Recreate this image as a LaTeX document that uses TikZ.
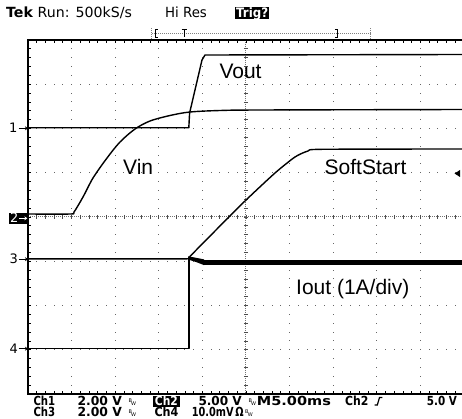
\documentclass[tikz,border=0pt]{standalone}
\usepackage{fontspec}
\usepackage{graphicx}
\setmainfont{Liberation Sans}
\newfontfamily\tekfont{DejaVu Sans}
\newcommand\tkw[2]{\resizebox{#1pt}{\height}{#2}}
\newcommand\bwsym{\raisebox{3.2pt}{B}\kern-0.8pt W}
\tikzset{
 trace/.style={line width=1.4pt, line join=round},
 lbl/.style={inner sep=0pt, anchor=base west, font=\fontsize{21}{21}\selectfont},
 toptxt/.style={inner sep=0pt, anchor=base west, font=\tekfont\fontsize{14}{14}\selectfont},
 bottxt/.style={inner sep=0pt, anchor=base west, font=\tekfont\bfseries\fontsize{12.5}{12.5}\selectfont},
 chnum/.style={inner sep=0pt, anchor=base, font=\tekfont\fontsize{13}{13}\selectfont},
 bwtxt/.style={inner sep=0pt, anchor=base west, font=\tekfont\fontsize{5}{5}\selectfont},
 dotc/.style={fill=black!60},
 gridtick/.style={black!70, line width=0.8pt},
 frametick/.style={black, line width=0.8pt},
 chmark/.style={line width=0.8pt, -{Stealth[length=3pt,width=4pt]}},
 brk/.style={line width=0.9pt},
 brkdot/.style={black!50, line width=0.8pt, dash pattern=on 1pt off 1pt},
}
\usetikzlibrary{arrows.meta}
\begin{document}
\begin{tikzpicture}[x=1pt,y=-1pt]
\useasboundingbox (0,0) rectangle (462,419);
\fill[white] (0,0) rectangle (462,419);
\begin{scope}
\clip (0,0) rectangle (462,419);
% grid dots
\foreach \j in {1,2,3,5,6,7}{\foreach \k in {1,...,49}{\fill[dotc] ({28+\k*8.72-0.5},{40+\j*44.25-0.5}) rectangle ++(1,1);}}
\foreach \i in {1,2,3,4,6,7,8,9}{\foreach \k in {1,...,39}{\fill[dotc] ({28+\i*43.6-0.5},{40+\k*8.85-0.5}) rectangle ++(1,1);}}
% centre lines
\draw[black!55, line width=1pt, dash pattern=on 1pt off 1pt] (28,217) -- (464,217);
\foreach \k in {1,...,49}{\draw[gridtick] ({28+\k*8.72},215) -- ++(0,4);}
\draw[black!55, line width=1pt, dash pattern=on 1pt off 1pt] (245.8,40) -- (245.8,394);
\foreach \k in {1,...,39}{\draw[gridtick] (243.8,{40+\k*8.85}) -- ++(4,0);}
% frame
\draw[line width=1.3pt] (466,40) -- (28,40) -- (28,394) -- (466,394);
\foreach \k in {1,...,49}{\draw[frametick] ({28+\k*8.72},40) -- ++(0,2.7); \draw[frametick] ({28+\k*8.72},394) -- ++(0,-2.7);}
\foreach \k in {1,...,39}{\draw[frametick] (28,{40+\k*8.85}) -- ++(2.7,0);}
% traces
\draw[trace] (28,127.8) -- (188.8,127.8) -- (189.6,113) -- (202,60) -- (205,55) -- (466,54.5);
\draw[trace] plot[smooth, tension=0.5] coordinates {(28,214) (70,214) (74,212) (83,197) (93,178) (107,158) (120,142) (135,129) (150,121) (170,115.5) (190,112) (220,110.5) (260,110) (466,109.5)};
\draw[trace] plot[smooth, tension=0.4] coordinates {(28,258.8) (187,258.8) (190,256.3) (215,231) (245,201) (275,173) (295,157) (308,151) (322,149.3) (466,149)};
\draw[trace] (28,348.5) -- (188.8,348.5) -- (188.8,257);
\fill (188,256.3) -- (196,257.8) -- (204,259.4) -- (204,265.1) -- (196,262) -- (188,259.5) -- cycle;
\draw[line width=5.5pt] (203,262.3) -- (466,262.3);
% trigger level marker
\fill (454.5,173.5) -- (460,170) -- (460,177) -- cycle;
\end{scope}
% labels
\node[lbl] (vout) at (219.3,79) {Vout};
\node[lbl] (vin) at (123,175) {Vin};
\node[lbl] (ss) at (324.5,175) {SoftStart};
\node[lbl] (iout) at (296,294.5) {Iout (1A/div)};
% channel markers
\node[chnum] (m1) at (13.3,133) {1};
\draw[chmark] (18.5,128.3) -- (28,128.3);
\fill (9.3,212.7) rectangle (27.3,224);
\node[chnum, text=white] (m2) at (14.3,222.8) {2};
\draw[chmark, white] (19,218.3) -- (27.3,218.3);
\node[chnum] (m3) at (13.7,263.8) {3};
\draw[chmark] (18.5,259.2) -- (28,259.2);
\node[chnum] (m4) at (13.7,353.3) {4};
\draw[chmark] (18.5,348.7) -- (28,348.7);
% top line
\node[toptxt] (tek) at (6,17.3) {\tkw{125.7}{\textbf{Tek} Run: 500kS/s}};
\node[toptxt] (hires) at (165,17.3) {\tkw{41.7}{Hi Res}};
\fill (235,7.3) rectangle (269.3,18.8);
\node[inner sep=0pt, anchor=base, text=white, font=\tekfont\bfseries\fontsize{13}{13}\selectfont] (trig) at (252.2,17.3) {\tkw{32}{Trig?}};
\draw[brkdot] (152,33.3) -- (371,33.3);
\draw[brkdot] (151.7,28.3) -- (151.7,39.3);
\draw[brkdot] (370.7,28.3) -- (370.7,39.3);
\draw[brk] (157.8,29.5) -- (155.5,29.5) -- (155.5,37.5) -- (157.8,37.5);
\draw[brk] (181.5,29.5) -- (187,29.5) (184.2,29.5) -- (184.2,37.5);
\draw[brk] (334.8,29.5) -- (337,29.5) -- (337,37.5) -- (334.8,37.5);
% bottom rows
\node[bottxt] (b1) at (33.3,405.3) {\tkw{21.7}{Ch1}};
\node[bottxt] (b2) at (77.3,405.3) {\tkw{44.3}{2.00 V}};
\node[bwtxt] (b3) at (128.3,405.3) {\bwsym};
\fill (152.7,395.8) rectangle (180,407);
\node[bottxt, text=white] (b4) at (154.7,405.3) {\tkw{23}{Ch2}};
\node[bottxt] (b5) at (198.3,405.3) {\tkw{43.3}{5.00 V}};
\node[bwtxt] (b6) at (248.3,405.3) {\bwsym};
\node[bottxt] (b7) at (256.7,405.3) {\tkw{74}{M5.00ms}};
\node[bottxt] (b8) at (345,405.3) {\tkw{23.3}{Ch2}};
\draw[line width=1.2pt] (374.5,405) -- (377.3,405) -- (379.5,397.5) -- (382.3,397.5);
\node[bottxt] (b9) at (426.7,405.3) {\tkw{30}{5.0 V}};
\node[bottxt] (c1) at (33.3,416.7) {\tkw{21.7}{Ch3}};
\node[bottxt] (c2) at (77.3,416.7) {\tkw{44.3}{2.00 V}};
\node[bwtxt] (c3) at (128.3,416.7) {\bwsym};
\node[bottxt] (c4) at (154.3,416.7) {\tkw{24}{Ch4}};
\node[bottxt] (c5) at (191.7,416.7) {\tkw{51.7}{10.0mV\,Ω}};
\node[bwtxt] (c6) at (245,416.7) {\bwsym};
\end{tikzpicture}
\end{document}
